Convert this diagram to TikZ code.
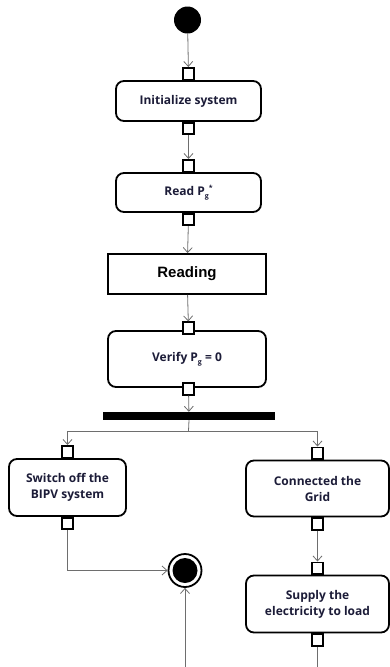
\documentclass[tikz,border=0pt]{standalone}
\usepackage{fontspec}
\setmainfont{Open Sans}
\newfontfamily\readfont{Liberation Sans}
\usetikzlibrary{arrows.meta,calc}
\definecolor{txt}{HTML}{1C1C38}
\definecolor{wire}{HTML}{6E6E6E}
\tikzset{
  act/.style={draw=black,line width=1.8pt,rounded corners=8pt,fill=white,inner sep=0pt,
    align=center,font=\bfseries\fontsize{12}{16}\selectfont,text=txt},
  plainbox/.style={draw=black,line width=1.8pt,fill=white,inner sep=0pt,
    font=\readfont\bfseries\fontsize{15}{17}\selectfont,text=black},
  pin/.style={draw=black,line width=1.6pt,fill=white,minimum width=11.5pt,minimum height=11.5pt,inner sep=0pt},
  wireline/.style={draw=wire,line width=0.8pt},
  flow/.style={wireline,-{Straight Barb[length=5pt,width=9pt,line width=0.8pt]}},
}
\newcommand{\subg}{\raisebox{-0.45ex}{\scriptsize g}}
\begin{document}
\begin{tikzpicture}[x=1pt,y=-1pt]
\useasboundingbox (0,0) rectangle (390,667);
% start
\node[circle,fill=black,minimum size=27pt,inner sep=0pt] (start) at (187.5,20) {};
% Initialize
\node[act,minimum width=145pt,minimum height=40pt] (init) at (188.5,101) {Initialize system};
\node[pin,anchor=south] (initIn) at (init.north) {};
\node[pin,anchor=north] (initOut) at (init.south) {};
% Read
\node[act,minimum width=145pt,minimum height=39pt] (read) at (188.5,192.5) {Read P\subg\raisebox{0.8ex}{\scriptsize *}};
\node[pin,anchor=south] (readIn) at (read.north) {};
\node[pin,anchor=north] (readOut) at (read.south) {};
% Reading
\node[plainbox,minimum width=158pt,minimum height=40pt] (reading) at (187,274) {Reading};
% Verify
\node[act,minimum width=158pt,minimum height=56pt] (verify) at (187,359) {Verify P\subg{} = 0};
\node[pin] (verifyIn) at (188.5,328) {};
\node[pin] (verifyOut) at (188.5,389) {};
% fork bar
\node[fill=black,minimum width=172pt,minimum height=8pt,inner sep=0pt] (bar) at (189,416) {};
\coordinate (split) at (188.5,431);
% Switch off
\node[act,minimum width=117pt,minimum height=57pt] (switch) at (67.5,487.5) {Switch off the\\BIPV system};
\node[pin,anchor=south] (switchIn) at (switch.north) {};
\node[pin,anchor=north] (switchOut) at (switch.south) {};
% Connected the Grid
\node[act,minimum width=143pt,minimum height=56pt] (grid) at (317.5,488.5) {Connected the\\Grid};
\node[pin,anchor=south] (gridIn) at (grid.north) {};
\node[pin,anchor=north] (gridOut) at (grid.south) {};
% Supply
\node[act,minimum width=143pt,minimum height=57pt] (supply) at (317.5,604) {Supply the\\electricity to load};
\node[pin,anchor=south] (supplyIn) at (supply.north) {};
\node[pin,anchor=north] (supplyOut) at (supply.south) {};
% final
\node[circle,draw=black,line width=1.8pt,minimum size=33pt,inner sep=0pt] (final) at (185,570.5) {};
\node[circle,fill=black,minimum size=25pt,inner sep=0pt] at (final.center) {};
\coordinate (supplyEnd) at (317.5,667);
\coordinate (finalSrc) at (185,667);
% connectors
\draw[flow] (start) -- (initIn);
\draw[flow] (initOut) -- (readIn);
\draw[flow] (readOut) -- (reading);
\draw[flow] (reading) -- (verifyIn);
\draw[flow] (verifyOut) -- (bar);
\draw[wireline] (bar.south) -- (split);
\draw[flow] (split) -| (switchIn);
\draw[flow] (split) -| (gridIn);
\draw[flow] (switchOut) |- (final);
\draw[flow] (gridOut) -- (supplyIn);
\draw[wireline] (supplyOut) -- (supplyEnd);
\draw[flow] (finalSrc) -- (final);
\end{tikzpicture}
\end{document}
